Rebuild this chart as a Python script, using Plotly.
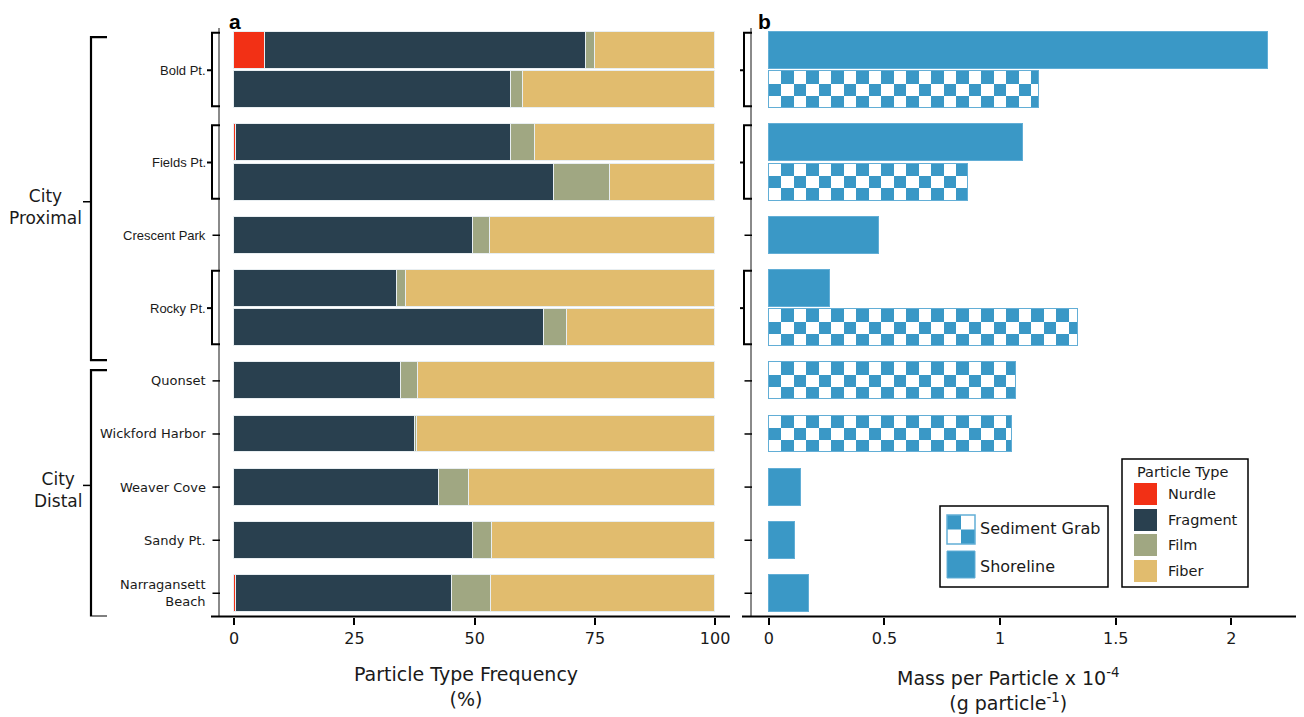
import math
import plotly.graph_objects as go

# page body has an 8px margin: the figure is drawn at (8, 8) in the window
OFF = 8
W, H = 1304 - OFF, 717 - OFF

# ---------------- data ----------------
sites = ["Bold Pt.", "Fields Pt.", "Crescent Park", "Rocky Pt.", "Quonset",
         "Wickford Harbor", "Weaver Cove", "Sandy Pt.", "Narragansett Beach"]
site_labels = ["Bold Pt.", "Fields Pt.", "Crescent Park", "Rocky Pt.", "Quonset",
               "Wickford Harbor", "Weaver Cove", "Sandy Pt.", "Narragansett<br>Beach"]
site_group = ["City Proximal"] * 4 + ["City Distal"] * 5
group_names = ["City Proximal", "City Distal"]
group_labels = ["City<br>Proximal", "City<br>Distal"]

sample_site = ["Bold Pt.", "Bold Pt.", "Fields Pt.", "Fields Pt.", "Crescent Park",
               "Rocky Pt.", "Rocky Pt.", "Quonset", "Wickford Harbor", "Weaver Cove",
               "Sandy Pt.", "Narragansett Beach"]
sample_method = ["Shoreline", "Sediment Grab", "Shoreline", "Sediment Grab", "Shoreline",
                 "Shoreline", "Sediment Grab", "Sediment Grab", "Sediment Grab",
                 "Shoreline", "Shoreline", "Shoreline"]

type_names = ["Nurdle", "Fragment", "Film", "Fiber"]
nurdle = [6.4, 0.0, 0.3, 0.0, 0.0, 0.0, 0.0, 0.0, 0.0, 0.0, 0.0, 0.3]
fragment = [66.7, 57.6, 57.3, 66.6, 49.7, 33.8, 64.5, 34.6, 37.7, 42.5, 49.7, 44.9]
film = [1.9, 2.5, 5.0, 11.6, 3.4, 1.9, 4.8, 3.6, 0.3, 6.3, 4.0, 8.3]
fiber = [25.0, 39.9, 37.4, 21.8, 46.9, 64.3, 30.7, 61.8, 62.0, 51.2, 46.3, 46.5]

mass = [2.16, 1.17, 1.10, 0.861, 0.475, 0.265, 1.335, 1.07, 1.05, 0.138, 0.114, 0.173]

x_ticks_a = [0, 25, 50, 75, 100]
x_ticks_b = [0, 0.5, 1, 1.5, 2]
x_ticktext_b = ["0", "0.5", "1", "1.5", "2"]

# ---------------- styles ----------------
type_colors = ["#F23015", "#29404F", "#A0A782", "#E1BC6E"]
BLUE = "#3A98C6"
BLUE_EDGE = "#62AED6"
FONT = "DejaVu Sans"
ARIAL = "Liberation Sans"
site_font = {s: (ARIAL if i < 4 else FONT) for i, s in enumerate(sites)}

BW = 0.94          # bar thickness (row units)
SITE_STEP = 1.351  # spacing between sites (row units)
CHECK_L = 0.054    # checker square length in mass units
group_tick_shift = [0.08, -0.20]   # group tick offset from bracket middle (row units)


def px(x):
    return (x - OFF) / W


def py(y):
    return 1 - (y - OFF) / H


# row positions computed from structure
pos = []
for i, s in enumerate(sample_site):
    if i == 0:
        pos.append(0.0)
    elif s == sample_site[i - 1]:
        pos.append(pos[-1] + 1.0)
    else:
        pos.append(pos[-1] + SITE_STEP)

Y_TOP = pos[0] - 0.573
Y_BOT = pos[-1] + 0.59

fig = go.Figure()

# ---------------- panel a ----------------
for name, vals, col in zip(type_names, [nurdle, fragment, film, fiber], type_colors):
    fig.add_trace(go.Bar(
        x=vals, y=pos, orientation="h", width=BW, name=name,
        marker=dict(color=col, line=dict(color="#E8EEF1", width=1)),
        showlegend=False, xaxis="x", yaxis="y"))

# ---------------- panel b ----------------
sh_idx = [i for i, m in enumerate(sample_method) if m == "Shoreline"]
sd_idx = [i for i, m in enumerate(sample_method) if m == "Sediment Grab"]

fig.add_trace(go.Bar(
    x=[mass[i] for i in sh_idx], y=[pos[i] for i in sh_idx], base=0,
    orientation="h", width=BW, marker=dict(color=BLUE, line=dict(color=BLUE_EDGE, width=1)),
    showlegend=False, xaxis="x2", yaxis="y2"))

fig.add_trace(go.Bar(
    x=[mass[i] for i in sd_idx], y=[pos[i] for i in sd_idx], base=0,
    orientation="h", width=BW, marker=dict(color="white", line=dict(width=0)),
    showlegend=False, xaxis="x2", yaxis="y2"))

h = BW / 3
cx, cb, cy = [], [], []
for i in sd_idx:
    v = mass[i]
    n = math.ceil(v / CHECK_L)
    for r in range(3):
        for k in range(n):
            if (r + k) % 2 == 1:
                b = k * CHECK_L
                ln = min(CHECK_L, v - b)
                if ln > 0:
                    cx.append(ln)
                    cb.append(b)
                    cy.append(pos[i] + (r - 1) * h)
fig.add_trace(go.Bar(
    x=cx, y=cy, base=cb, orientation="h", width=h,
    marker=dict(color=BLUE, line=dict(width=0)),
    showlegend=False, xaxis="x2", yaxis="y2"))

fig.add_trace(go.Bar(
    x=[mass[i] for i in sd_idx], y=[pos[i] for i in sd_idx], base=0,
    orientation="h", width=BW,
    marker=dict(color="rgba(0,0,0,0)", line=dict(color=BLUE_EDGE, width=1.5)),
    showlegend=False, xaxis="x2", yaxis="y2"))

# ---------------- shapes / annotations ----------------
shapes = []
annotations = []
LINE = dict(color="black", width=2)

# x axis lines
shapes.append(dict(type="line", xref="paper", yref="paper",
                   x0=px(211), x1=px(730), y0=py(616.5), y1=py(616.5), line=LINE))
shapes.append(dict(type="line", xref="paper", yref="paper",
                   x0=px(742), x1=px(1300), y0=py(616.5), y1=py(616.5), line=LINE))

# site brackets / ticks for both panels
panels = [dict(axis=220, brk=212, tick_out=207), dict(axis=752, brk=744, tick_out=740)]
for si, site in enumerate(sites):
    idx = [i for i, s in enumerate(sample_site) if s == site]
    top = pos[idx[0]] - 0.45
    bot = pos[idx[-1]] + 0.42
    ctr = (pos[idx[0]] + pos[idx[-1]]) / 2
    for p in panels:
        if len(idx) > 1:
            shapes.append(dict(
                type="path", xref="paper", yref="y",
                path=f"M {px(p['axis'])} {top} L {px(p['brk'])} {top} L {px(p['brk'])} {bot} L {px(p['axis'])} {bot}",
                line=LINE))
            shapes.append(dict(type="line", xref="paper", yref="y",
                               x0=px(p["tick_out"]), x1=px(p["brk"]), y0=ctr, y1=ctr, line=LINE))
        else:
            shapes.append(dict(type="line", xref="paper", yref="y",
                               x0=px(p["brk"] + 0.5), x1=px(p["axis"]), y0=ctr, y1=ctr,
                               line=dict(color="black", width=1.5)))
    annotations.append(dict(
        x=px(208), y=ctr, xref="paper", yref="y", xanchor="right", yanchor="middle",
        text=site_labels[si], showarrow=False, align="right",
        font=dict(family=site_font[site], size=13, color="#1a1a1a")))

# city group brackets
for gi, g in enumerate(group_names):
    g_sites = [s for s, gg in zip(sites, site_group) if gg == g]
    g_idx = [i for i, s in enumerate(sample_site) if s in g_sites]
    first, last = g_idx[0], g_idx[-1]
    if gi == 0:
        top = pos[first] - 0.34
        mid_next = (pos[last] + pos[last + 1]) / 2
        bot = mid_next + 0.145
    else:
        mid_prev = (pos[first - 1] + pos[first]) / 2
        top = mid_prev + 0.40
        bot = Y_BOT
    ctr = (top + bot) / 2 + group_tick_shift[gi]
    shapes.append(dict(
        type="path", xref="paper", yref="y",
        path=f"M {px(107)} {top} L {px(91)} {top} L {px(91)} {bot} L {px(107)} {bot}",
        line=dict(color="black", width=2.2)))
    shapes.append(dict(type="line", xref="paper", yref="y",
                       x0=px(83), x1=px(91), y0=ctr, y1=ctr, line=dict(color="black", width=1.5)))
    annotations.append(dict(
        x=px(84), y=ctr, xref="paper", yref="y", xanchor="right", yanchor="middle",
        yshift=-5, text=group_labels[gi], showarrow=False, align="center",
        font=dict(family=FONT, size=17, color="#1a1a1a")))

# panel letters
annotations.append(dict(x=px(235), y=1.0, xref="paper", yref="paper", text="<b>a</b>",
                        showarrow=False, xanchor="center", yanchor="top",
                        font=dict(family=ARIAL, size=21, color="black")))
annotations.append(dict(x=px(764), y=1.0, xref="paper", yref="paper", text="<b>b</b>",
                        showarrow=False, xanchor="center", yanchor="top",
                        font=dict(family=ARIAL, size=21, color="black")))

# axis titles
annotations.append(dict(x=px(466), y=py(686), xref="paper", yref="paper",
                        text="Particle Type Frequency<br>(%)", showarrow=False,
                        xanchor="center", yanchor="middle", align="center",
                        font=dict(family=FONT, size=19, color="#1a1a1a")))
annotations.append(dict(x=px(1008), y=py(689), xref="paper", yref="paper",
                        text="Mass per Particle x 10<sup>-4</sup><br>(g particle<sup>-1</sup>)",
                        showarrow=False, xanchor="center", yanchor="middle", align="center",
                        font=dict(family=FONT, size=19, color="#1a1a1a")))

# legend 1 (sampling method)
shapes.append(dict(type="rect", xref="paper", yref="paper",
                   x0=px(940), x1=px(1108), y0=py(587), y1=py(506),
                   line=dict(color="black", width=1.5), fillcolor="white"))
sx0, sx1, sy0, sy1 = 947, 975, 515, 544
mx, my = (sx0 + sx1) / 2, (sy0 + sy1) / 2
shapes.append(dict(type="rect", xref="paper", yref="paper",
                   x0=px(sx0), x1=px(mx), y0=py(my), y1=py(sy0),
                   line=dict(width=0), fillcolor=BLUE))
shapes.append(dict(type="rect", xref="paper", yref="paper",
                   x0=px(mx), x1=px(sx1), y0=py(sy1), y1=py(my),
                   line=dict(width=0), fillcolor=BLUE))
shapes.append(dict(type="rect", xref="paper", yref="paper",
                   x0=px(sx0), x1=px(sx1), y0=py(sy1), y1=py(sy0),
                   line=dict(color=BLUE_EDGE, width=1.5), fillcolor="rgba(0,0,0,0)"))
shapes.append(dict(type="rect", xref="paper", yref="paper",
                   x0=px(947), x1=px(975), y0=py(578), y1=py(551),
                   line=dict(color=BLUE_EDGE, width=1), fillcolor=BLUE))
for txt, yy in [("Sediment Grab", 528), ("Shoreline", 566)]:
    annotations.append(dict(x=px(978), y=py(yy), xref="paper", yref="paper", text=txt,
                            showarrow=False, xanchor="left", yanchor="middle",
                            font=dict(family=FONT, size=16, color="#1a1a1a")))

# legend 2 (particle type)
shapes.append(dict(type="rect", xref="paper", yref="paper",
                   x0=px(1122), x1=px(1248), y0=py(587), y1=py(459),
                   line=dict(color="black", width=1.5), fillcolor="white"))
annotations.append(dict(x=px(1183), y=py(472), xref="paper", yref="paper", text="Particle Type",
                        showarrow=False, xanchor="center", yanchor="middle",
                        font=dict(family=FONT, size=14.5, color="#1a1a1a")))
row_tops = [483, 509, 534, 560]
for name, col, rt in zip(type_names, type_colors, row_tops):
    shapes.append(dict(type="rect", xref="paper", yref="paper",
                       x0=px(1134), x1=px(1157), y0=py(rt + 22), y1=py(rt),
                       line=dict(width=0), fillcolor=col))
    annotations.append(dict(x=px(1166), y=py(rt + 11), xref="paper", yref="paper", text=name,
                            showarrow=False, xanchor="left", yanchor="middle",
                            font=dict(family=FONT, size=14.5, color="#1a1a1a")))

# ---------------- layout ----------------
tickfont = dict(family=FONT, size=16, color="#1a1a1a")
yaxis_common = dict(range=[Y_BOT, Y_TOP], domain=[py(616.5), py(28)],
                    showline=True, linecolor="#8a8a8a", linewidth=1.5,
                    showticklabels=False, ticks="", showgrid=False, zeroline=False,
                    fixedrange=True)

fig.update_layout(
    width=W, height=H,
    margin=dict(l=0, r=0, t=0, b=0, autoexpand=False),
    paper_bgcolor="white", plot_bgcolor="white",
    barmode="stack", bargap=0,
    showlegend=False,
    xaxis=dict(domain=[px(220), px(730)], range=[-2.95, 103.1], anchor="y",
               tickvals=x_ticks_a, ticks="outside", ticklen=7, tickwidth=1.5, tickcolor="black",
               tickfont=tickfont, showline=False, showgrid=False, zeroline=False),
    yaxis=dict(anchor="x", **yaxis_common),
    xaxis2=dict(domain=[px(752), px(1300)], range=[-0.0726, 2.297], anchor="y2",
                tickvals=x_ticks_b, ticktext=x_ticktext_b, ticks="outside", ticklen=7,
                tickwidth=1.5, tickcolor="black",
                tickfont=tickfont, showline=False, showgrid=False, zeroline=False),
    yaxis2=dict(anchor="x2", **yaxis_common),
    shapes=shapes,
    annotations=annotations,
)

fig.write_html("out.html")
